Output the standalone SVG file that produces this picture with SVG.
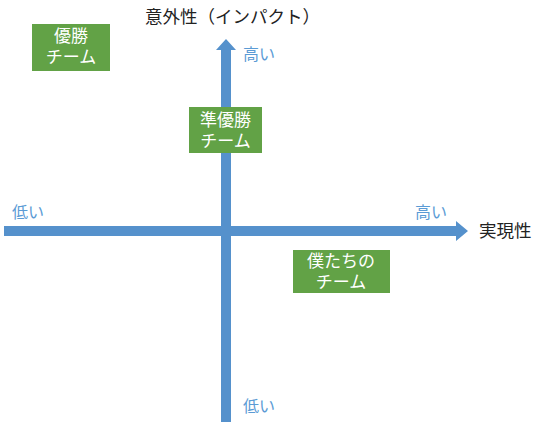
<svg xmlns="http://www.w3.org/2000/svg" width="543" height="429" viewBox="0 0 543 429">
<style>
.box{fill:#62A246;}
.bt{font-family:"Liberation Sans","Noto Sans CJK JP",sans-serif;font-size:17px;fill:#ffffff;text-anchor:middle;}
.lbl{font-family:"Noto Sans CJK JP","Noto Sans CJK SC",sans-serif;font-size:16px;fill:#5B9BD5;}
.ax{font-family:"Noto Sans CJK JP","Noto Sans CJK SC",sans-serif;font-size:17.5px;fill:#222222;}
.arr{fill:#5591CC;}
</style>
<rect width="543" height="429" fill="#ffffff"/>
<g id="connectors">
<polygon class="arr" points="4,226 456,226 456,221 468,231 456,241 456,236 4,236"/>
<polygon class="arr" points="221,422 221,50 216,50 226,39 236,50 231,50 231,422"/>
</g>
<g id="axis-labels">
<text class="ax" x="145" y="23">意外性（インパクト）</text>
<text class="ax" x="479" y="237">実現性</text>
<text class="lbl" x="243" y="60">高い</text>
<text class="lbl" x="243" y="412">低い</text>
<text class="lbl" x="12" y="218">低い</text>
<text class="lbl" x="415" y="218">高い</text>
</g>
<g id="node-yusho">
<rect class="box" x="32" y="24" width="78" height="47"/>
<text class="bt"><tspan x="71" y="42">優勝</tspan><tspan x="71" dy="21">チーム</tspan></text>
</g>
<g id="node-junyusho">
<rect class="box" x="189" y="107" width="73" height="46"/>
<text class="bt"><tspan x="225.5" y="126">準優勝</tspan><tspan x="225.5" dy="21">チーム</tspan></text>
</g>
<g id="node-bokutachi">
<rect class="box" x="293" y="250" width="97" height="43"/>
<text class="bt"><tspan x="341" y="267">僕たちの</tspan><tspan x="341" dy="21">チーム</tspan></text>
</g>
</svg>
